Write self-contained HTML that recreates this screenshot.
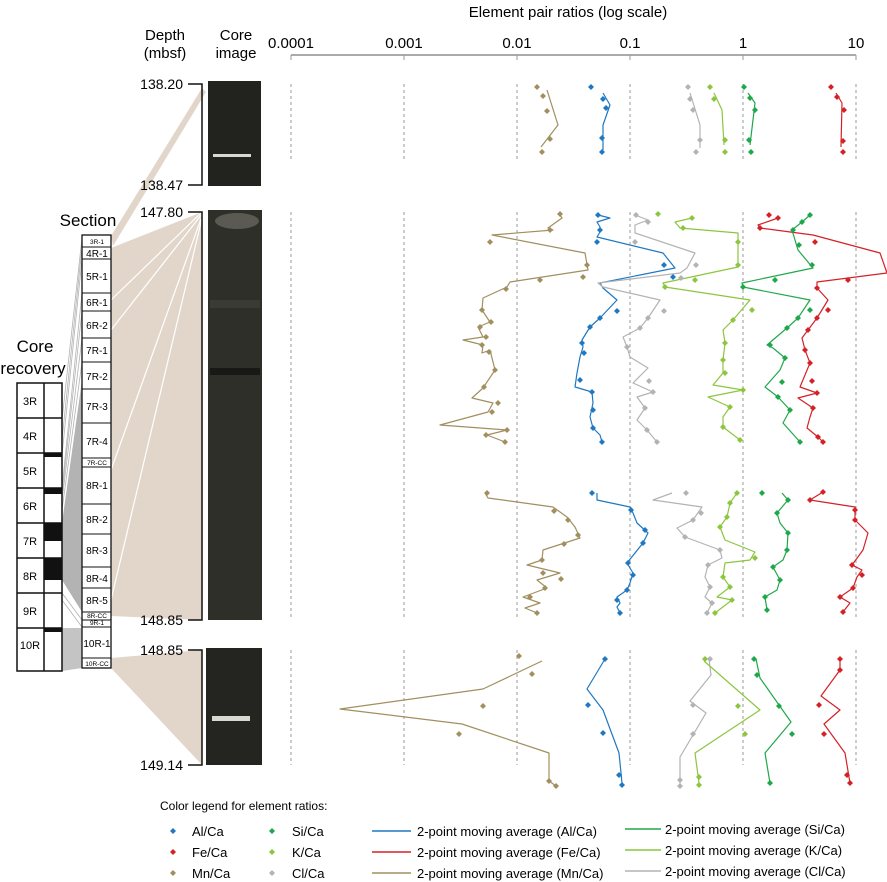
<!DOCTYPE html>
<html><head><meta charset="utf-8"><style>
body{margin:0;background:#fff;}
svg{display:block;font-family:"Liberation Sans",sans-serif;}
</style></head><body>
<svg width="887" height="882" viewBox="0 0 887 882" xmlns="http://www.w3.org/2000/svg">
<defs>
<path id="d" d="M0,-3 L3,0 L0,3 L-3,0Z"/>
</defs>
<g fill="#e2d6cb">
<polygon points="111,236 202,88 206,92 113,246"/>
<polygon points="111,248 202,212 202,620 111,616"/>
<polygon points="111,658 202,650 202,765 111,668"/>
</g>
<g stroke="#fff" stroke-width="1.2">
<line x1="111" y1="300" x2="202" y2="212"/><line x1="111" y1="330" x2="202" y2="214"/>
<line x1="111" y1="470" x2="202" y2="216"/><line x1="111" y1="600" x2="202" y2="218"/>
</g>
<polygon points="62,523 82,380 82,612 62,580" fill="#b3b3b3"/>
<polygon points="62,628 82,628 82,668 62,671" fill="#c4c4c4"/>
<g stroke="#b3b3b3" stroke-width="0.8">
<line x1="62" y1="420" x2="82" y2="238"/><line x1="62" y1="440" x2="82" y2="247"/>
<line x1="62" y1="455" x2="82" y2="259"/><line x1="62" y1="488" x2="82" y2="293"/>
<line x1="62" y1="494" x2="82" y2="311"/><line x1="62" y1="500" x2="82" y2="338"/>
<line x1="62" y1="510" x2="82" y2="362"/>
<line x1="62" y1="593" x2="82" y2="620"/><line x1="62" y1="600" x2="82" y2="627"/>
</g>
<text x="35" y="352" font-size="17" text-anchor="middle">Core</text>
<text x="33" y="374" font-size="17" text-anchor="middle">recovery</text>
<g fill="#111">
<rect x="44" y="453" width="18" height="4"/><rect x="44" y="488" width="18" height="6"/>
<rect x="44" y="523" width="18" height="18"/><rect x="44" y="558" width="18" height="22"/>
<rect x="44" y="628" width="18" height="4"/>
</g>
<g fill="none" stroke="#111" stroke-width="1.5">
<rect x="17" y="383" width="45" height="288"/>
<line x1="44" y1="383" x2="44" y2="671"/>
<line x1="17" y1="418" x2="62" y2="418"/><line x1="17" y1="453" x2="62" y2="453"/>
<line x1="17" y1="488" x2="62" y2="488"/><line x1="17" y1="523" x2="62" y2="523"/>
<line x1="17" y1="558" x2="62" y2="558"/><line x1="17" y1="593" x2="62" y2="593"/>
<line x1="17" y1="628" x2="62" y2="628"/>
</g>
<g font-size="11" text-anchor="middle">
<text x="30" y="405">3R</text><text x="30" y="440">4R</text><text x="30" y="475">5R</text>
<text x="30" y="510">6R</text><text x="30" y="545">7R</text><text x="30" y="580">8R</text>
<text x="30" y="615">9R</text><text x="30" y="649">10R</text>
</g>
<text x="88" y="226" font-size="17" text-anchor="middle">Section</text>
<g fill="#fff" stroke="#111" stroke-width="1.3">
<rect x="82" y="235" width="29" height="433"/>
</g>
<g stroke="#111" stroke-width="1">
<line x1="82" y1="247" x2="111" y2="247"/><line x1="82" y1="259" x2="111" y2="259"/>
<line x1="82" y1="293" x2="111" y2="293"/><line x1="82" y1="311" x2="111" y2="311"/>
<line x1="82" y1="338" x2="111" y2="338"/><line x1="82" y1="362" x2="111" y2="362"/>
<line x1="82" y1="389" x2="111" y2="389"/><line x1="82" y1="423" x2="111" y2="423"/>
<line x1="82" y1="458" x2="111" y2="458"/><line x1="82" y1="467" x2="111" y2="467"/>
<line x1="82" y1="504" x2="111" y2="504"/><line x1="82" y1="534" x2="111" y2="534"/>
<line x1="82" y1="567" x2="111" y2="567"/><line x1="82" y1="588" x2="111" y2="588"/>
<line x1="82" y1="612" x2="111" y2="612"/><line x1="82" y1="620" x2="111" y2="620"/>
<line x1="82" y1="627" x2="111" y2="627"/><line x1="82" y1="658" x2="111" y2="658"/>
</g>
<g font-size="10" text-anchor="middle">
<text x="97" y="257">4R-1</text><text x="97" y="280">5R-1</text><text x="97" y="306">6R-1</text>
<text x="97" y="329">6R-2</text><text x="97" y="354">7R-1</text><text x="97" y="380">7R-2</text>
<text x="97" y="410">7R-3</text><text x="97" y="445">7R-4</text><text x="97" y="489">8R-1</text>
<text x="97" y="523">8R-2</text><text x="97" y="554">8R-3</text><text x="97" y="582">8R-4</text>
<text x="97" y="604">8R-5</text><text x="97" y="647">10R-1</text>
</g>
<g font-size="6.5" text-anchor="middle">
<text x="97" y="244">3R-1</text><text x="97" y="465">7R-CC</text><text x="97" y="618">8R-CC</text>
<text x="97" y="625">9R-1</text><text x="97" y="666">10R-CC</text>
</g>
<text x="568" y="17" font-size="15" text-anchor="middle">Element pair ratios (log scale)</text>
<text x="165" y="40" font-size="15" text-anchor="middle">Depth</text>
<text x="165" y="58" font-size="15" text-anchor="middle">(mbsf)</text>
<text x="236" y="40" font-size="15" text-anchor="middle">Core</text>
<text x="236" y="58" font-size="15" text-anchor="middle">image</text>
<g font-size="15" text-anchor="middle">
<text x="291" y="48">0.0001</text><text x="404" y="48">0.001</text><text x="517" y="48">0.01</text>
<text x="630" y="48">0.1</text><text x="743" y="48">1</text><text x="856" y="48">10</text>
</g>
<line x1="291" y1="55" x2="856" y2="55" stroke="#aaa" stroke-width="2"/>
<g stroke="#999" stroke-width="1">
<line x1="291" y1="55" x2="291" y2="60"/><line x1="404" y1="55" x2="404" y2="60"/>
<line x1="517" y1="55" x2="517" y2="60"/><line x1="630" y1="55" x2="630" y2="60"/>
<line x1="743" y1="55" x2="743" y2="60"/><line x1="856" y1="55" x2="856" y2="60"/>
</g>
<g stroke="#555" stroke-width="0.6" stroke-dasharray="3,3">
<path d="M291,84V160M404,84V160M517,84V160M630,84V160M743,84V160M856,84V160"/>
<path d="M291,212V617M404,212V617M517,212V617M630,212V617M743,212V617M856,212V617"/>
<path d="M291,650V765M404,650V765M517,650V765M630,650V765M743,650V765M856,650V765"/>
</g>
<g fill="none" stroke="#111" stroke-width="1.5">
<path d="M188,84H202V185H188"/><path d="M188,212H202V620H188"/><path d="M188,650H202V765H188"/>
</g>
<g font-size="14" text-anchor="end">
<text x="183" y="89">138.20</text><text x="183" y="190">138.47</text>
<text x="183" y="217">147.80</text><text x="183" y="625">148.85</text>
<text x="183" y="655">148.85</text><text x="183" y="770">149.14</text>
</g>
<rect x="208" y="81" width="53" height="105" fill="#22231f"/>
<rect x="213" y="154" width="38" height="3" fill="#d8d8d0"/>
<rect x="208" y="210" width="54" height="410" fill="#2e2f29"/>
<ellipse cx="237" cy="221" rx="22" ry="8" fill="#5a5a52"/>
<rect x="210" y="300" width="50" height="8" fill="#3a3b34"/>
<rect x="210" y="368" width="50" height="7" fill="#181815"/>
<rect x="206" y="648" width="56" height="117" fill="#242521"/>
<rect x="212" y="716" width="38" height="5" fill="#d8d8d0"/>
<g fill="none" stroke-width="1.2" stroke-linejoin="round">
<g stroke="#a18f5f">
<polyline points="547,90 558,125 541,147"/>
<polyline points="560,215 562,218 548,228 553,230 492,235 585,253 588,270 510,282 507,287 483,298 482,310 490,322 478,327 483,337 463,340 483,345 482,353 490,350 495,370 483,388 472,398 493,403 488,412 440,425 507,430 487,435 505,442"/>
<polyline points="485,493 488,498 553,507 567,517 575,527 580,538 543,550 542,560 527,565 560,573 537,580 547,588 523,597 540,603 525,608 537,613"/>
<polyline points="542,661 483,689 340,709 462,724 549,753 549,781 556,786"/>
</g>
<g stroke="#1f78c1">
<polyline points="603,93 610,105 603,125 603,150"/>
<polyline points="598,215 610,218 597,222 600,227 600,232 597,237 663,253 675,268 600,283 603,288 617,300 600,318 590,327 582,340 583,347 580,357 577,373 575,387 592,392 593,403 590,417 593,428 600,435 602,442"/>
<polyline points="597,493 597,500 630,507 633,513 637,523 648,533 643,543 627,563 633,573 630,583 627,590 617,597 620,603 617,607 620,613"/>
<polyline points="605,659 587,689 603,710 619,753 622,783"/>
</g>
<g stroke="#b3b3b3">
<polyline points="690,93 700,125 700,148"/>
<polyline points="635,215 648,220 635,225 635,233 695,253 687,268 680,273 598,283 603,287 660,300 648,318 640,328 623,337 627,347 630,357 648,368 633,383 653,392 637,397 645,408 637,420 647,430 657,442"/>
<polyline points="672,493 653,500 702,507 693,520 677,528 685,537 720,550 722,558 708,565 705,577 710,587 705,597 712,603 707,613"/>
<polyline points="709,659 711,675 690,701 706,713 680,757 680,786"/>
</g>
<g stroke="#8cc63f">
<polyline points="714,93 722,110 724,145"/>
<polyline points="692,218 675,222 680,228 738,233 738,267 663,283 665,287 750,300 733,320 723,330 725,343 723,360 723,373 713,385 743,390 708,397 730,407 723,417 723,427 740,440"/>
<polyline points="737,493 730,503 727,517 720,527 725,540 755,552 750,560 725,563 723,577 730,587 717,597 732,600 715,613"/>
<polyline points="704,661 760,710 695,753 699,783"/>
</g>
<g stroke="#1fa84a">
<polyline points="748,93 755,103 750,145"/>
<polyline points="810,215 802,222 792,230 798,250 813,268 742,283 743,287 810,300 798,318 787,328 767,345 773,348 785,358 780,370 765,387 778,397 790,410 783,423 800,442"/>
<polyline points="782,493 788,500 777,513 780,523 788,533 787,550 783,560 773,567 780,580 777,590 765,597 767,610"/>
<polyline points="756,659 760,678 791,722 765,753 770,783"/>
</g>
<g stroke="#d42127">
<polyline points="836,93 842,103 841,147"/>
<polyline points="778,218 758,225 760,228 813,235 880,253 887,273 817,282 817,288 828,300 817,318 808,330 802,338 805,350 810,363 800,387 817,393 798,398 813,408 810,417 807,428 818,437 823,442"/>
<polyline points="823,492 810,500 855,507 855,520 868,533 863,550 852,565 862,570 857,577 853,588 840,597 850,603 843,612"/>
<polyline points="840,659 840,670 821,696 840,710 824,724 845,753 850,783"/>
</g>
</g>
<g fill="#a18f5f">
<use href="#d" x="537" y="87"/><use href="#d" x="543" y="96"/><use href="#d" x="547" y="111"/><use href="#d" x="550" y="139"/><use href="#d" x="542" y="152"/>
<use href="#d" x="560" y="214"/><use href="#d" x="550" y="230"/><use href="#d" x="490" y="242"/><use href="#d" x="587" y="265"/><use href="#d" x="583" y="277"/><use href="#d" x="540" y="280"/><use href="#d" x="506" y="289"/><use href="#d" x="482" y="310"/><use href="#d" x="491" y="322"/><use href="#d" x="480" y="327"/><use href="#d" x="486" y="337"/><use href="#d" x="482" y="345"/><use href="#d" x="489" y="352"/><use href="#d" x="495" y="370"/><use href="#d" x="484" y="387"/><use href="#d" x="498" y="403"/><use href="#d" x="492" y="412"/><use href="#d" x="507" y="430"/><use href="#d" x="486" y="435"/><use href="#d" x="505" y="442"/>
<use href="#d" x="487" y="493"/><use href="#d" x="554" y="511"/><use href="#d" x="568" y="520"/><use href="#d" x="578" y="535"/><use href="#d" x="564" y="544"/><use href="#d" x="542" y="560"/><use href="#d" x="543" y="573"/><use href="#d" x="561" y="579"/><use href="#d" x="545" y="588"/><use href="#d" x="530" y="597"/><use href="#d" x="537" y="613"/>
<use href="#d" x="519" y="656"/><use href="#d" x="532" y="674"/><use href="#d" x="483" y="706"/><use href="#d" x="459" y="734"/><use href="#d" x="549" y="781"/><use href="#d" x="556" y="786"/>
</g>
<g fill="#1f78c1">
<use href="#d" x="591" y="87"/><use href="#d" x="603" y="99"/><use href="#d" x="606" y="108"/><use href="#d" x="602" y="138"/><use href="#d" x="602" y="152"/>
<use href="#d" x="598" y="215"/><use href="#d" x="600" y="230"/><use href="#d" x="597" y="242"/><use href="#d" x="664" y="265"/><use href="#d" x="673" y="277"/><use href="#d" x="617" y="311"/><use href="#d" x="600" y="318"/><use href="#d" x="590" y="327"/><use href="#d" x="582" y="343"/><use href="#d" x="584" y="353"/><use href="#d" x="580" y="380"/><use href="#d" x="592" y="392"/><use href="#d" x="593" y="410"/><use href="#d" x="593" y="428"/><use href="#d" x="602" y="442"/>
<use href="#d" x="592" y="493"/><use href="#d" x="631" y="510"/><use href="#d" x="645" y="530"/><use href="#d" x="643" y="543"/><use href="#d" x="628" y="563"/><use href="#d" x="633" y="575"/><use href="#d" x="627" y="590"/><use href="#d" x="617" y="600"/><use href="#d" x="620" y="613"/>
<use href="#d" x="605" y="659"/><use href="#d" x="588" y="705"/><use href="#d" x="603" y="733"/><use href="#d" x="619" y="775"/><use href="#d" x="622" y="785"/>
</g>
<g fill="#b3b3b3">
<use href="#d" x="688" y="87"/><use href="#d" x="690" y="99"/><use href="#d" x="693" y="110"/><use href="#d" x="700" y="140"/><use href="#d" x="696" y="152"/>
<use href="#d" x="636" y="215"/><use href="#d" x="648" y="222"/><use href="#d" x="635" y="242"/><use href="#d" x="696" y="265"/><use href="#d" x="681" y="278"/><use href="#d" x="664" y="311"/><use href="#d" x="648" y="318"/><use href="#d" x="640" y="328"/><use href="#d" x="627" y="347"/><use href="#d" x="649" y="381"/><use href="#d" x="653" y="392"/><use href="#d" x="645" y="408"/><use href="#d" x="647" y="430"/><use href="#d" x="657" y="442"/>
<use href="#d" x="686" y="493"/><use href="#d" x="701" y="513"/><use href="#d" x="693" y="520"/><use href="#d" x="685" y="537"/><use href="#d" x="720" y="550"/><use href="#d" x="708" y="565"/><use href="#d" x="710" y="587"/><use href="#d" x="712" y="603"/><use href="#d" x="707" y="613"/>
<use href="#d" x="710" y="659"/><use href="#d" x="693" y="705"/><use href="#d" x="693" y="734"/><use href="#d" x="680" y="780"/><use href="#d" x="680" y="786"/>
</g>
<g fill="#8cc63f">
<use href="#d" x="710" y="87"/><use href="#d" x="714" y="99"/><use href="#d" x="725" y="140"/><use href="#d" x="725" y="152"/>
<use href="#d" x="658" y="214"/><use href="#d" x="692" y="218"/><use href="#d" x="683" y="228"/><use href="#d" x="738" y="242"/><use href="#d" x="738" y="265"/><use href="#d" x="695" y="280"/><use href="#d" x="665" y="287"/><use href="#d" x="752" y="310"/><use href="#d" x="733" y="320"/><use href="#d" x="725" y="343"/><use href="#d" x="723" y="360"/><use href="#d" x="725" y="373"/><use href="#d" x="743" y="390"/><use href="#d" x="730" y="407"/><use href="#d" x="723" y="427"/><use href="#d" x="740" y="440"/>
<use href="#d" x="737" y="493"/><use href="#d" x="730" y="503"/><use href="#d" x="727" y="517"/><use href="#d" x="720" y="527"/><use href="#d" x="755" y="558"/><use href="#d" x="723" y="577"/><use href="#d" x="730" y="587"/><use href="#d" x="732" y="600"/><use href="#d" x="715" y="613"/>
<use href="#d" x="705" y="659"/><use href="#d" x="738" y="706"/><use href="#d" x="745" y="734"/><use href="#d" x="699" y="777"/><use href="#d" x="699" y="785"/>
</g>
<g fill="#1fa84a">
<use href="#d" x="744" y="87"/><use href="#d" x="750" y="98"/><use href="#d" x="755" y="110"/><use href="#d" x="749" y="140"/><use href="#d" x="751" y="152"/>
<use href="#d" x="810" y="215"/><use href="#d" x="802" y="222"/><use href="#d" x="793" y="230"/><use href="#d" x="799" y="245"/><use href="#d" x="812" y="265"/><use href="#d" x="775" y="280"/><use href="#d" x="743" y="287"/><use href="#d" x="810" y="310"/><use href="#d" x="798" y="318"/><use href="#d" x="787" y="328"/><use href="#d" x="770" y="345"/><use href="#d" x="785" y="358"/><use href="#d" x="782" y="382"/><use href="#d" x="778" y="397"/><use href="#d" x="790" y="410"/><use href="#d" x="800" y="442"/>
<use href="#d" x="762" y="493"/><use href="#d" x="788" y="500"/><use href="#d" x="777" y="513"/><use href="#d" x="788" y="533"/><use href="#d" x="787" y="550"/><use href="#d" x="773" y="567"/><use href="#d" x="780" y="580"/><use href="#d" x="765" y="597"/><use href="#d" x="767" y="610"/>
<use href="#d" x="754" y="659"/><use href="#d" x="757" y="675"/><use href="#d" x="779" y="706"/><use href="#d" x="792" y="734"/><use href="#d" x="770" y="783"/>
</g>
<g fill="#d42127">
<use href="#d" x="831" y="87"/><use href="#d" x="837" y="97"/><use href="#d" x="844" y="110"/><use href="#d" x="843" y="141"/><use href="#d" x="843" y="152"/>
<use href="#d" x="769" y="215"/><use href="#d" x="778" y="218"/><use href="#d" x="760" y="228"/><use href="#d" x="815" y="242"/><use href="#d" x="848" y="280"/><use href="#d" x="817" y="288"/><use href="#d" x="828" y="310"/><use href="#d" x="817" y="318"/><use href="#d" x="808" y="330"/><use href="#d" x="805" y="350"/><use href="#d" x="810" y="363"/><use href="#d" x="812" y="381"/><use href="#d" x="817" y="393"/><use href="#d" x="813" y="408"/><use href="#d" x="818" y="437"/><use href="#d" x="823" y="442"/>
<use href="#d" x="823" y="492"/><use href="#d" x="810" y="500"/><use href="#d" x="855" y="510"/><use href="#d" x="855" y="520"/><use href="#d" x="852" y="565"/><use href="#d" x="862" y="575"/><use href="#d" x="853" y="588"/><use href="#d" x="840" y="597"/><use href="#d" x="843" y="612"/>
<use href="#d" x="840" y="659"/><use href="#d" x="840" y="670"/><use href="#d" x="819" y="705"/><use href="#d" x="824" y="734"/><use href="#d" x="847" y="775"/><use href="#d" x="850" y="783"/>
</g>
<text x="160" y="810" font-size="12">Color legend for element ratios:</text>
<g font-size="13">
<use href="#d" x="173" y="831" fill="#1f78c1"/><text x="192" y="836">Al/Ca</text>
<use href="#d" x="173" y="852" fill="#d42127"/><text x="192" y="857">Fe/Ca</text>
<use href="#d" x="173" y="873" fill="#a18f5f"/><text x="192" y="878">Mn/Ca</text>
<use href="#d" x="272" y="831" fill="#1fa84a"/><text x="292" y="836">Si/Ca</text>
<use href="#d" x="272" y="852" fill="#8cc63f"/><text x="292" y="857">K/Ca</text>
<use href="#d" x="272" y="873" fill="#b3b3b3"/><text x="292" y="878">Cl/Ca</text>
<line x1="372" y1="831" x2="411" y2="831" stroke="#1f78c1" stroke-width="1.5"/><text x="417" y="836">2-point moving average (Al/Ca)</text>
<line x1="372" y1="852" x2="411" y2="852" stroke="#d42127" stroke-width="1.5"/><text x="417" y="857">2-point moving average (Fe/Ca)</text>
<line x1="372" y1="873" x2="411" y2="873" stroke="#a18f5f" stroke-width="1.5"/><text x="417" y="878">2-point moving average (Mn/Ca)</text>
<line x1="625" y1="829" x2="661" y2="829" stroke="#1fa84a" stroke-width="1.5"/><text x="665" y="834">2-point moving average (Si/Ca)</text>
<line x1="625" y1="850" x2="661" y2="850" stroke="#8cc63f" stroke-width="1.5"/><text x="665" y="855">2-point moving average (K/Ca)</text>
<line x1="625" y1="871" x2="661" y2="871" stroke="#b3b3b3" stroke-width="1.5"/><text x="665" y="876">2-point moving average (Cl/Ca)</text>
</g>
</svg>
</body></html>
